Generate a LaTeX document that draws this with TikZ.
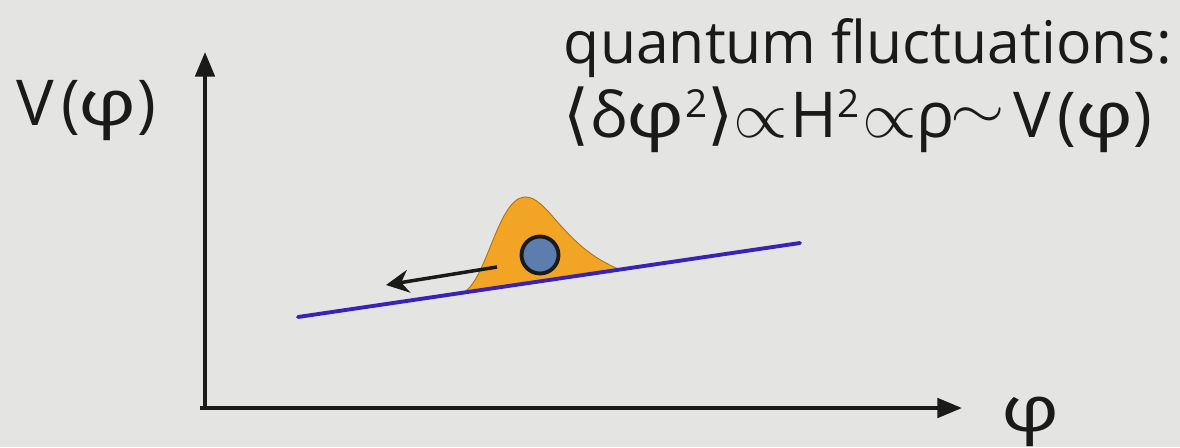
\documentclass[tikz,border=0pt]{standalone}
\usepackage{fontspec}
\setmainfont{Open Sans}[Ligatures={NoCommon}]
\newfontfamily\symfont{DejaVu Sans}
\usetikzlibrary{arrows.meta}
\definecolor{bg}{HTML}{E4E4E2}
\definecolor{potblue}{HTML}{3A22B8}
\definecolor{bumporange}{HTML}{F2A524}
\definecolor{ballblue}{HTML}{5C7DAE}
\definecolor{ink}{HTML}{1A1A1A}
\newlength\px \setlength\px{0.02cm}
% place a glyph centred at offset #1 (px) from the start of the line
\newcommand\gl[2]{\hbox to 0pt{\kern#1\px\hbox to 0pt{\hss#2\hss}\hss}}
\newcommand\wphi{\scalebox{1.28}[1]{φ}}
\newcommand\sqr{\raisebox{20\px}{\fontsize{22}{22}\selectfont 2}}
\newcommand\bigang[1]{{\symfont\fontsize{38}{38}\selectfont #1}}
\newcommand\prop{\scalebox{1.6}[1.5]{$\propto$}}
\newcommand\tld{\raisebox{9\px}{\scalebox{1.6}[1.3]{$\sim$}}}
\begin{document}
\begin{tikzpicture}[x=0.02cm,y=-0.02cm,
  lbl/.style={font=\fontsize{33.5}{40}\selectfont, text=ink, inner sep=0pt},
  eq/.style={font=\fontsize{36}{40}\selectfont, text=ink, inner sep=0pt},
  axis/.style={line width=2.2pt, draw=ink, -{Triangle[length=14pt,width=11pt]}},
  push/.style={line width=2pt, draw=ink, -{Stealth[length=13pt,width=13pt]}}]
\fill[bg] (0,0) rectangle (1180,447);
\useasboundingbox (0,0) rectangle (1180,447);
% axes
\coordinate (ytip) at (205,52);
\coordinate (xtip) at (962,408);
\coordinate (ybase) at (205,410);
\coordinate (xbase) at (200,408);
\draw[axis] (ybase) -- (ytip);
\draw[axis] (xbase) -- (xtip);
% labels
\node[eq, anchor=base west] (vlab) at (0,125)
  {\gl{35}{V}\gl{71}{(}\gl{107}{\wphi}\gl{147}{)}\kern160\px};
\node[eq, anchor=base] (plab) at (1031,431) {\wphi};
\node[lbl, anchor=base east] (t1) at (1172,63) {quantum fluctuations:};
\node[eq, anchor=base west] (t2) at (566,137)
  {\gl{10}{\bigang{⟨}}\gl{42}{δ}\gl{89}{\wphi}\gl{130}{\sqr}\gl{154}{\bigang{⟩}}%
   \gl{194}{\prop}\gl{247}{H}\gl{282}{\sqr}\gl{323}{\prop}\gl{369}{ρ}%
   \gl{411}{\tld}\gl{466}{V}\gl{501}{(}\gl{538}{\wphi}\gl{577}{)}\kern596\px};
% bump
\fill[bumporange, draw=bumporange!70!black, line width=0.5pt]
  (462,293) .. controls (486,284) and (497,200) .. (524,197)
  .. controls (548,195) and (562,247) .. (621,270) -- cycle;
% potential line
\coordinate (p1) at (298,317);
\coordinate (p2) at (800,243);
\draw[potblue, line width=2.2pt, line cap=round] (p1) -- (p2);
% ball
\node[circle, fill=ballblue, draw=ink, line width=2.2pt, inner sep=0pt, minimum size=0.74cm] (ball) at (540,255) {};
% push arrow
\coordinate (a1) at (497,267);
\coordinate (a2) at (386,285);
\draw[push] (a1) -- (a2);
\end{tikzpicture}
\end{document}
